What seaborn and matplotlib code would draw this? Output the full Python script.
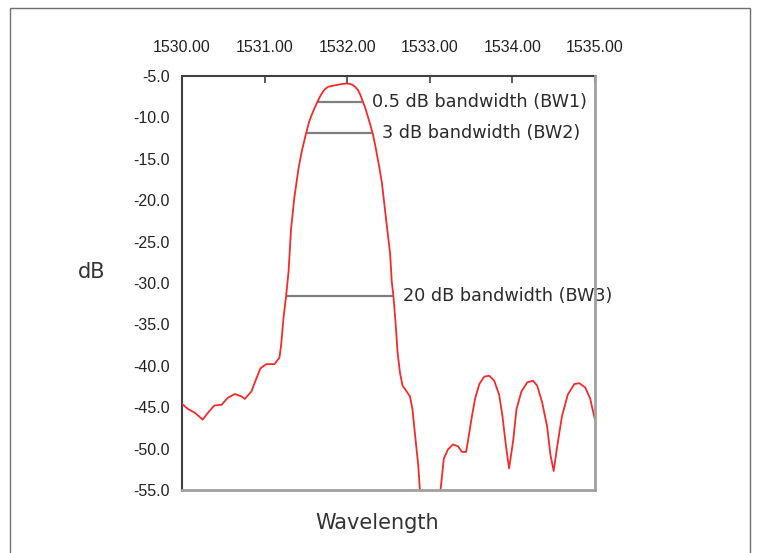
import matplotlib
matplotlib.use("Agg")
import matplotlib.pyplot as plt
import seaborn as sns
import pandas as pd
from matplotlib.patches import Rectangle

# ---- data ----
wavelength = [1530.00, 1530.07, 1530.16, 1530.25, 1530.32, 1530.39, 1530.48, 1530.55,
              1530.64, 1530.72, 1530.76, 1530.84, 1530.89, 1530.95, 1531.02, 1531.12,
              1531.18, 1531.20, 1531.23, 1531.26, 1531.29, 1531.32, 1531.36, 1531.41,
              1531.45, 1531.50, 1531.54, 1531.57, 1531.60, 1531.64, 1531.67, 1531.70,
              1531.73, 1531.77, 1531.84, 1531.92, 1531.99, 1532.03, 1532.07, 1532.10,
              1532.13, 1532.16, 1532.19, 1532.22, 1532.25, 1532.28, 1532.31, 1532.34,
              1532.36, 1532.39, 1532.42, 1532.45, 1532.48, 1532.52, 1532.54, 1532.56,
              1532.59, 1532.61, 1532.64, 1532.67, 1532.72, 1532.76, 1532.79, 1532.82,
              1532.86, 1532.88, 1533.00, 1533.13, 1533.17, 1533.22, 1533.28, 1533.34,
              1533.39, 1533.44, 1533.47, 1533.51, 1533.55, 1533.60, 1533.66, 1533.72,
              1533.78, 1533.84, 1533.88, 1533.92, 1533.96, 1534.01, 1534.05, 1534.11,
              1534.18, 1534.25, 1534.30, 1534.36, 1534.42, 1534.46, 1534.50, 1534.54,
              1534.60, 1534.67, 1534.75, 1534.81, 1534.88, 1534.94, 1535.00]
db = [-44.6, -45.2, -45.7, -46.5, -45.6, -44.8, -44.7, -43.9,
      -43.4, -43.7, -44.0, -43.1, -41.8, -40.3, -39.8, -39.8,
      -39.0, -37.5, -34.1, -31.6, -28.6, -23.5, -19.7, -16.2,
      -14.1, -12.0, -10.5, -9.7, -9.0, -8.1, -7.5, -7.0,
      -6.6, -6.3, -6.15, -6.0, -5.9, -5.95, -6.1, -6.35,
      -6.7, -7.3, -8.1, -8.9, -9.9, -10.9, -12.0, -13.4,
      -14.5, -16.1, -17.9, -20.5, -23.1, -26.5, -29.9, -31.6,
      -35.4, -38.4, -40.9, -42.4, -43.1, -43.7, -45.2, -48.2,
      -52.0, -55.0, -62.0, -55.0, -51.2, -50.1, -49.5, -49.7,
      -50.4, -50.4, -48.6, -46.1, -43.9, -42.2, -41.3, -41.2,
      -41.8, -43.5, -46.1, -49.5, -52.4, -49.0, -45.2, -43.1,
      -42.0, -41.8, -42.4, -44.4, -47.3, -50.7, -52.7, -49.9,
      -46.1, -43.5, -42.2, -42.1, -42.6, -43.9, -46.5]

bw_labels = ["0.5 dB bandwidth (BW1)", "3 dB bandwidth (BW2)", "20 dB bandwidth (BW3)"]
bw_level = [-8.1, -11.9, -31.6]
bw_start = [1531.64, 1531.51, 1531.26]
bw_end = [1532.18, 1532.30, 1532.56]

x_ticks = [1530, 1531, 1532, 1533, 1534, 1535]
y_ticks = [-5, -10, -15, -20, -25, -30, -35, -40, -45, -50, -55]

sns.set_style("white")
plt.rcParams['font.family'] = ['Liberation Sans', 'DejaVu Sans']

fig = plt.figure(figsize=(7.59, 5.53), dpi=100)
ax = fig.add_axes([0.2398, 0.1139, 0.5441, 0.7487])

df = pd.DataFrame({"wavelength": wavelength, "dB": db})
sns.lineplot(data=df, x="wavelength", y="dB", ax=ax, color="#f52a2a",
             linewidth=1.3, estimator=None, sort=False, zorder=3)

ax.hlines(bw_level, bw_start, bw_end, colors="#7f7f7f", linewidth=1.6, zorder=2.8)

for lab, lvl, end in zip(bw_labels, bw_level, bw_end):
    ax.annotate(lab, xy=(end, lvl), xytext=(7, 0), textcoords="offset points",
                ha="left", va="center", fontsize=12.7, color="#2b2b2b",
                family=["DejaVu Sans"], annotation_clip=False, zorder=2)

ax.set_xlim(1530, 1535)
ax.set_ylim(-55, -5)
ax.set_xticks(x_ticks)
ax.set_xticklabels([f"{v:.2f}" for v in x_ticks])
ax.set_yticks(y_ticks)
ax.set_yticklabels([f"{v:.1f}" for v in y_ticks])

ax.xaxis.set_ticks_position("top")
ax.xaxis.set_label_position("bottom")
ax.tick_params(axis="x", direction="in", length=5, width=1.2, color="#404040",
               pad=15, labelsize=11.5, labelcolor="#222222")
ax.tick_params(axis="y", direction="out", length=5, width=1.2, color="#404040",
               pad=4, labelsize=11.5, labelcolor="#222222")

for side in ("left", "top"):
    ax.spines[side].set_color("#404040")
    ax.spines[side].set_linewidth(1.5)
for side in ("bottom", "right"):
    ax.spines[side].set_color("#a0a0a0")
    ax.spines[side].set_linewidth(2)
    ax.spines[side].set_zorder(4)

ax.set_xlabel("")
ax.set_ylabel("")
fig.text(377 / 759, 1 - 523 / 553, "Wavelength", ha="center", va="center",
         fontsize=15, color="#333333", family=["DejaVu Sans"])
fig.text(92 / 759, 1 - 272 / 553, "dB", ha="center", va="center",
         fontsize=15, color="#333333", family=["DejaVu Sans"])

fig.patches.append(Rectangle((10 / 759, -0.05), 740 / 759, 1.05 - 8 / 553,
                             transform=fig.transFigure, fill=False,
                             edgecolor="#6f6f6f", linewidth=1.0))

fig.savefig("out.png", dpi=100)
